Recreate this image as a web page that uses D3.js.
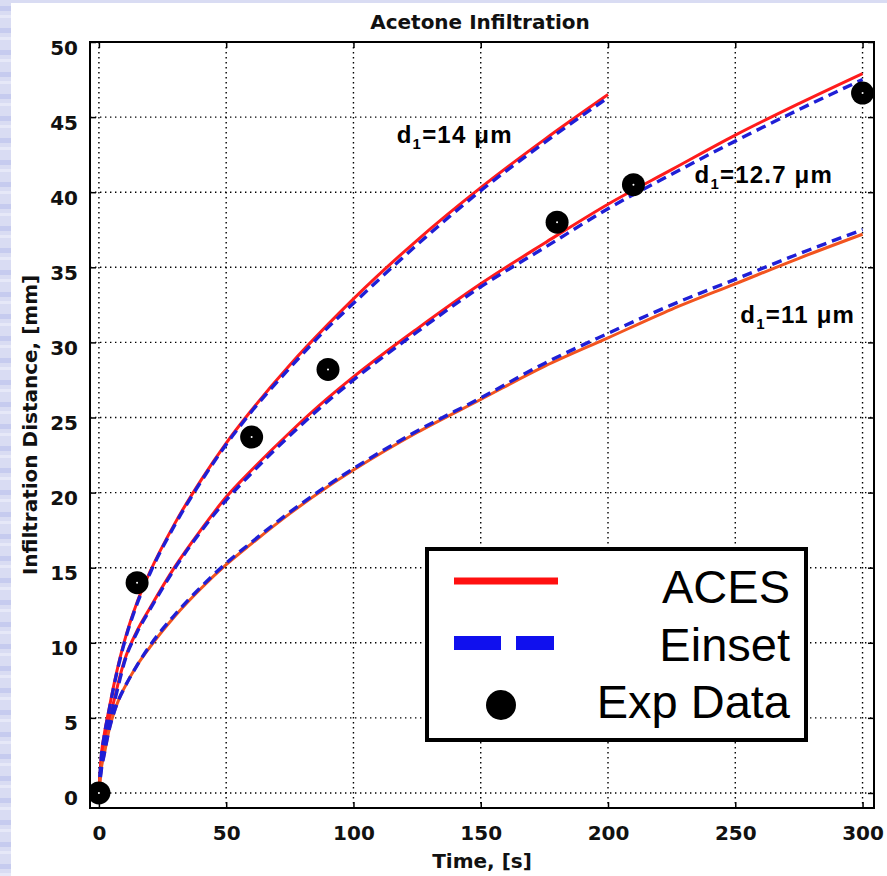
<!DOCTYPE html>
<html>
<head>
<meta charset="utf-8">
<script src="https://cdn.jsdelivr.net/npm/d3@7"></script>
<style>
body { margin: 0; background: #dcdff4; }
svg { display: block; }
</style>
</head>
<body>
<div id="svg-area"></div>
<script>
// data
const timeTicks = [0, 50, 100, 150, 200, 250, 300];
const distTicks = [0, 5, 10, 15, 20, 25, 30, 35, 40, 45, 50];

// sample times of the model curves (the d1=14 curve stops at 200 s)
const curveTimes = [0, 1, 2, 4, 6, 8, 10, 15, 20, 30, 40, 50, 60, 75, 90, 100, 125, 150, 175, 200, 225, 250, 275, 300];
const curveTimes14 = [0, 1, 2, 4, 6, 8, 10, 15, 20, 30, 40, 50, 60, 75, 90, 100, 125, 150, 175, 200];

// ACES model
const aces14 = [0, 2.6, 3.8, 5.6, 7.3, 8.8, 10.1, 12.7, 14.7, 18.0, 20.8, 23.3, 25.5, 28.5, 31.2, 32.9, 36.8, 40.3, 43.5, 46.5];
const aces127 = [0, 2.2, 3.2, 4.8, 6.2, 7.6, 8.8, 10.8, 12.3, 15.1, 17.5, 19.7, 21.5, 24.0, 26.3, 27.7, 30.9, 33.9, 36.6, 39.2, 41.5, 43.8, 45.9, 47.9];
const aces11 = [0, 1.7, 2.5, 4.2, 5.4, 6.3, 7.0, 8.5, 9.7, 11.8, 13.6, 15.2, 16.6, 18.6, 20.4, 21.5, 24.0, 26.2, 28.4, 30.3, 32.2, 33.9, 35.6, 37.2];

// Einset model
const einset14 = [0, 2.5, 3.7, 5.5, 7.2, 8.7, 10.0, 12.6, 14.6, 17.9, 20.7, 23.2, 25.4, 28.3, 31.0, 32.6, 36.5, 40.1, 43.3, 46.3];
const einset127 = [0, 2.0, 3.0, 4.6, 6.0, 7.4, 8.7, 10.7, 12.2, 15.0, 17.4, 19.5, 21.3, 23.8, 26.1, 27.5, 30.7, 33.7, 36.3, 38.9, 41.2, 43.4, 45.5, 47.5];
const einset11 = [0, 1.6, 2.5, 4.2, 5.4, 6.3, 7.0, 8.5, 9.8, 11.9, 13.7, 15.3, 16.7, 18.7, 20.5, 21.6, 24.1, 26.3, 28.6, 30.6, 32.5, 34.2, 35.9, 37.5];

// experimental data
const expTimes = [0, 15, 60, 90, 180, 210, 300];
const expValues = [0, 14.0, 23.7, 28.2, 38.0, 40.5, 46.6];

// curve labels: [time, distance] anchor of the text start
const curveLabels = [
    { sub: "14", at: [117, 43.3] },
    { sub: "12.7", at: [234, 40.6] },
    { sub: "11", at: [252, 31.3] }
];
const legendLabels = ["ACES", "Einset", "Exp Data"];

// svg container
const svgHeight = 876;
const svgWidth = 887;

// margins
const margin = { top: 42, right: 13, bottom: 68, left: 90 };

// chart area minus margins
const chartHeight = svgHeight - margin.top - margin.bottom;
const chartWidth = svgWidth - margin.left - margin.right;

const axisFont = "'DejaVu Sans', Verdana, sans-serif";

// create svg container
const svg = d3.select("#svg-area").append("svg")
    .attr("height", svgHeight)
    .attr("width", svgWidth);

// textured slide background
const defs = svg.append("defs");
const stripes = defs.append("pattern")
    .attr("id", "stripes")
    .attr("patternUnits", "userSpaceOnUse")
    .attr("width", 12)
    .attr("height", 22);
stripes.append("rect").attr("width", 12).attr("height", 22).attr("fill", "#d9dcf3");
stripes.append("rect").attr("y", 6).attr("width", 12).attr("height", 5).attr("fill", "#c6cbef");
stripes.append("rect").attr("y", 15).attr("width", 12).attr("height", 3).attr("fill", "#e6e8f8");

svg.append("rect")
    .attr("width", svgWidth)
    .attr("height", svgHeight)
    .attr("fill", "url(#stripes)");
svg.append("rect")
    .attr("x", 11)
    .attr("y", 3)
    .attr("width", svgWidth - 11)
    .attr("height", svgHeight - 3)
    .attr("fill", "#ffffff");

defs.append("clipPath")
    .attr("id", "plot-clip")
    .append("rect")
    .attr("width", chartWidth)
    .attr("height", chartHeight);

// shift everything over by the margins
const chartGroup = svg.append("g")
    .attr("transform", `translate(${margin.left}, ${margin.top})`);

// scales
const xScale = d3.scaleLinear()
    .domain([-3.5, 304.5])
    .range([0, chartWidth]);

const yScale = d3.scaleLinear()
    .domain([-1, 50])
    .range([chartHeight, 0]);

// dotted grid
chartGroup.append("g")
    .selectAll("line")
    .data(timeTicks)
    .enter()
    .append("line")
    .attr("x1", d => xScale(d))
    .attr("x2", d => xScale(d))
    .attr("y1", 0)
    .attr("y2", chartHeight)
    .attr("stroke", "#000")
    .attr("stroke-width", 1.4)
    .attr("stroke-dasharray", "1.4,3.6");

chartGroup.append("g")
    .selectAll("line")
    .data(distTicks)
    .enter()
    .append("line")
    .attr("x1", 0)
    .attr("x2", chartWidth)
    .attr("y1", d => yScale(d))
    .attr("y2", d => yScale(d))
    .attr("stroke", "#000")
    .attr("stroke-width", 1.4)
    .attr("stroke-dasharray", "1.4,3.6");

// axes with inward ticks
const xAxis = d3.axisBottom(xScale).tickValues(timeTicks).tickSize(-6).tickPadding(18);
const yAxis = d3.axisLeft(yScale).tickValues(distTicks).tickSize(-6).tickPadding(12);

const xAxisGroup = chartGroup.append("g")
    .attr("transform", `translate(0, ${chartHeight})`)
    .call(xAxis);

const yAxisGroup = chartGroup.append("g")
    .call(yAxis);

chartGroup.append("g")
    .call(d3.axisTop(xScale).tickValues(timeTicks).tickSize(-6).tickFormat(""));
chartGroup.append("g")
    .attr("transform", `translate(${chartWidth}, 0)`)
    .call(d3.axisRight(yScale).tickValues(distTicks).tickSize(-6).tickFormat(""));

chartGroup.selectAll(".domain").remove();
chartGroup.selectAll(".tick line").attr("stroke", "#000").attr("stroke-width", 1.5);
chartGroup.selectAll(".tick text")
    .attr("font-family", axisFont)
    .attr("font-weight", "bold")
    .attr("font-size", 20)
    .attr("fill", "#111");
yAxisGroup.selectAll(".tick text").attr("dy", "0.6em");

// frame
chartGroup.append("rect")
    .attr("width", chartWidth)
    .attr("height", chartHeight)
    .attr("fill", "none")
    .attr("stroke", "#000")
    .attr("stroke-width", 2);

// model curves
const plotGroup = chartGroup.append("g").attr("clip-path", "url(#plot-clip)");

const line = d3.line()
    .x(d => xScale(d[0]))
    .y(d => yScale(d[1]))
    .curve(d3.curveMonotoneX);

const pair = (times, values) => times.map((t, i) => [t, values[i]]);

const acesSeries = [
    { pts: pair(curveTimes14, aces14), color: "#ff1c1c" },
    { pts: pair(curveTimes, aces127), color: "#ff1c1c" },
    { pts: pair(curveTimes, aces11), color: "#f2541f" }
];
const einsetSeries = [pair(curveTimes14, einset14), pair(curveTimes, einset127), pair(curveTimes, einset11)];

plotGroup.selectAll(".aces")
    .data(acesSeries)
    .enter()
    .append("path")
    .classed("aces", true)
    .attr("d", d => line(d.pts))
    .attr("fill", "none")
    .attr("stroke", d => d.color)
    .attr("stroke-width", 3);

plotGroup.selectAll(".einset")
    .data(einsetSeries)
    .enter()
    .append("path")
    .classed("einset", true)
    .attr("d", d => line(d))
    .attr("fill", "none")
    .attr("stroke", "#1f1fd6")
    .attr("stroke-width", 3.4)
    .attr("stroke-dasharray", "10,6");

// experimental points
const expPoints = plotGroup.selectAll(".exp")
    .data(pair(expTimes, expValues))
    .enter()
    .append("g")
    .classed("exp", true)
    .attr("transform", d => `translate(${xScale(d[0])}, ${yScale(d[1])})`);
expPoints.append("circle").attr("r", 11.5).attr("fill", "#000");
expPoints.append("circle").attr("r", 1).attr("fill", "#fff");

// curve labels
const labelText = chartGroup.selectAll(".curve-label")
    .data(curveLabels)
    .enter()
    .append("text")
    .classed("curve-label", true)
    .attr("x", d => xScale(d.at[0]))
    .attr("y", d => yScale(d.at[1]))
    .attr("font-family", "'Liberation Sans', Arial, sans-serif")
    .attr("font-weight", "bold")
    .attr("font-size", 24)
    .attr("letter-spacing", 1.2)
    .attr("fill", "#000");
labelText.append("tspan").text("d");
labelText.append("tspan").attr("font-size", 15).attr("dy", 6).text("1");
labelText.append("tspan").attr("dy", -6).text(d => "=" + d.sub + " ");
labelText.append("tspan").text("\u03bcm");

// legend box
const legend = svg.append("g").attr("transform", "translate(427, 549)");
legend.append("rect")
    .attr("width", 379)
    .attr("height", 191)
    .attr("fill", "#fff")
    .attr("stroke", "#000")
    .attr("stroke-width", 4);

legend.selectAll(".legend-label")
    .data(legendLabels)
    .enter()
    .append("text")
    .classed("legend-label", true)
    .attr("x", 363)
    .attr("y", (d, i) => 54 + i * 57.5)
    .attr("text-anchor", "end")
    .attr("font-family", "'Liberation Sans', Arial, sans-serif")
    .attr("font-size", 47)
    .attr("fill", "#000")
    .text(d => d);

legend.append("line")
    .attr("x1", 27).attr("x2", 131)
    .attr("y1", 32).attr("y2", 32)
    .attr("stroke", "#ff1010")
    .attr("stroke-width", 7);
legend.append("line")
    .attr("x1", 27).attr("x2", 127)
    .attr("y1", 94).attr("y2", 94)
    .attr("stroke", "#1010ee")
    .attr("stroke-width", 14)
    .attr("stroke-dasharray", "47,15");
legend.append("circle")
    .attr("cx", 74).attr("cy", 156)
    .attr("r", 15)
    .attr("fill", "#000");

// title and axis titles
svg.append("text")
    .attr("x", margin.left + chartWidth / 2 - 2)
    .attr("y", 29)
    .attr("text-anchor", "middle")
    .attr("font-family", axisFont)
    .attr("font-weight", "bold")
    .attr("font-size", 20)
    .attr("fill", "#111")
    .text("Acetone Infiltration");

svg.append("text")
    .attr("x", margin.left + chartWidth / 2)
    .attr("y", 868)
    .attr("text-anchor", "middle")
    .attr("font-family", axisFont)
    .attr("font-weight", "bold")
    .attr("font-size", 20)
    .attr("fill", "#111")
    .text("Time, [s]");

svg.append("text")
    .attr("transform", `translate(37, ${margin.top + chartHeight / 2}) rotate(-90)`)
    .attr("text-anchor", "middle")
    .attr("font-family", axisFont)
    .attr("font-weight", "bold")
    .attr("font-size", 20)
    .attr("fill", "#111")
    .text("Infiltration Distance, [mm]");
</script>
</body>
</html>
